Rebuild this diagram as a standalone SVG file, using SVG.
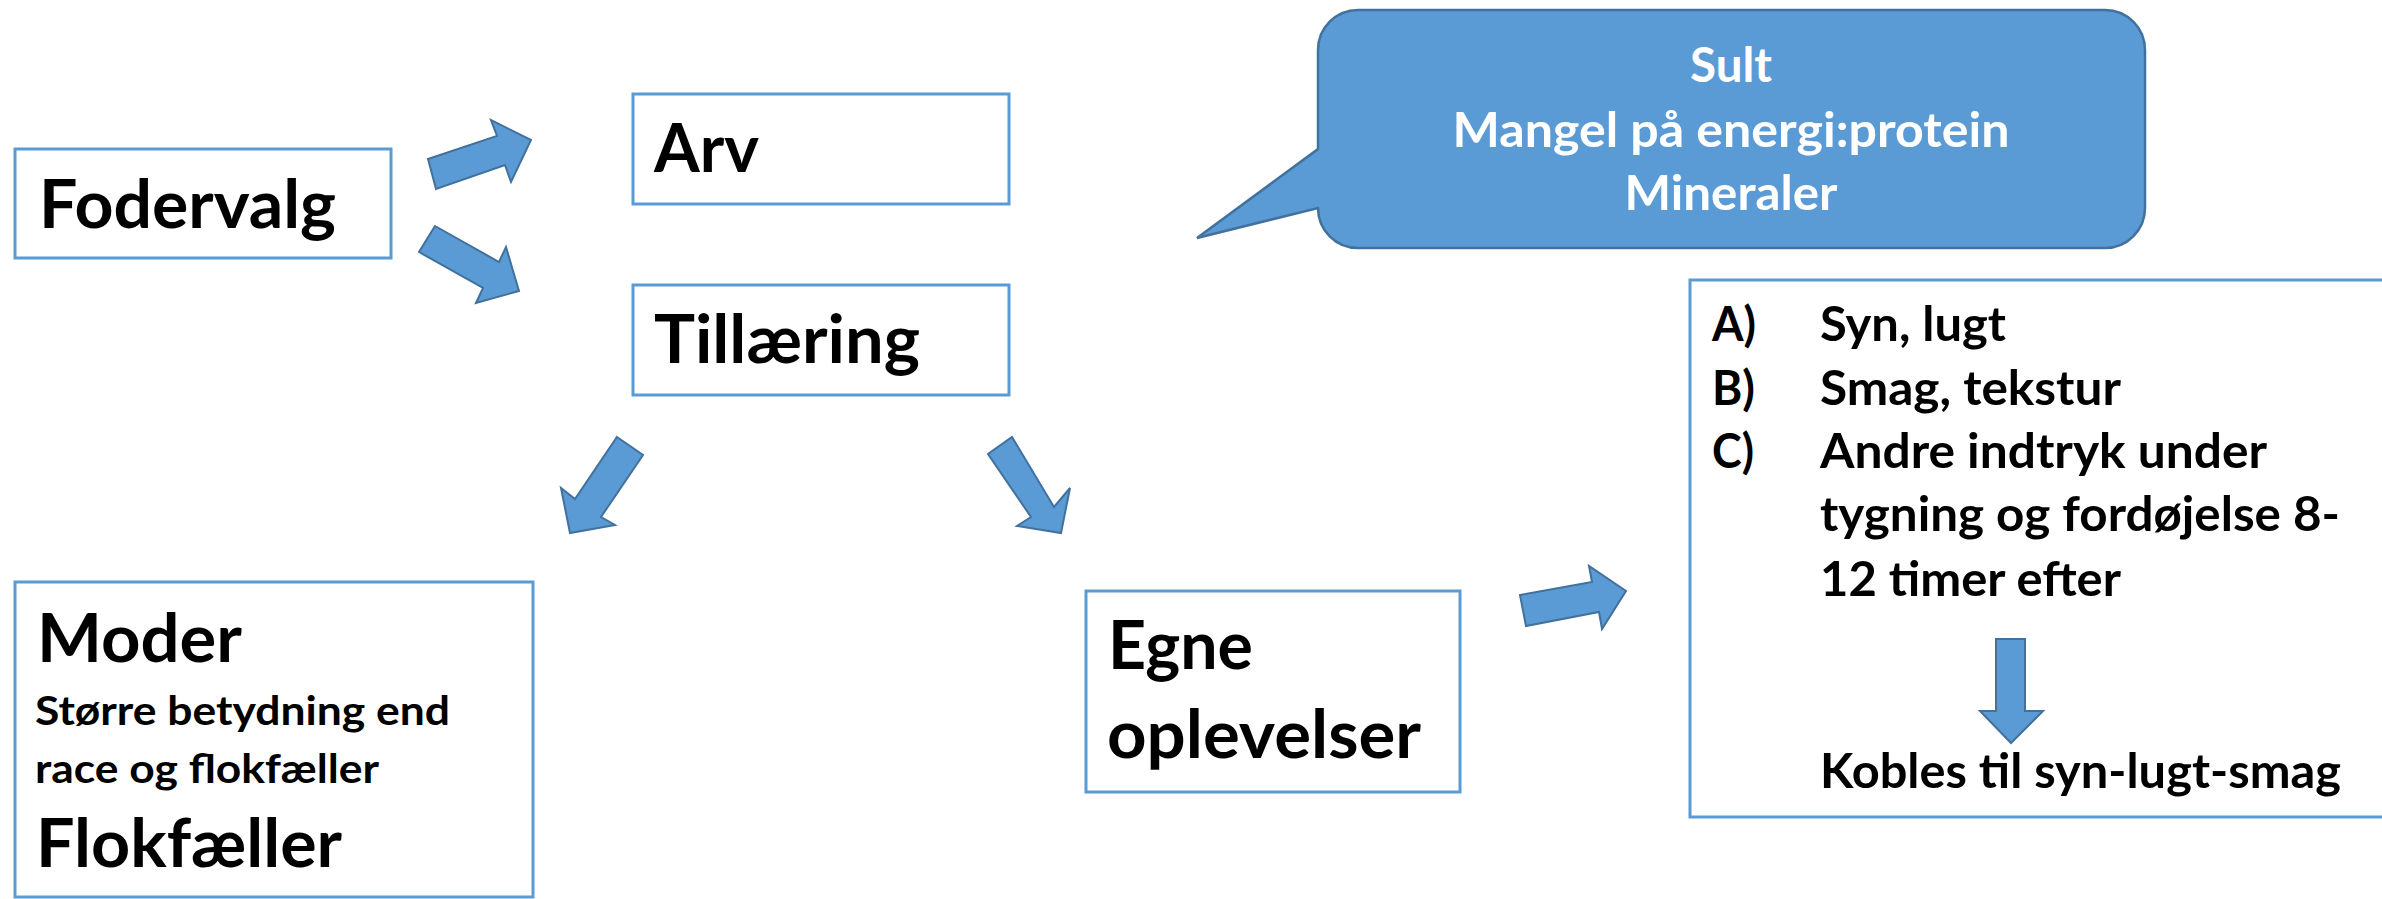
<svg xmlns="http://www.w3.org/2000/svg" width="2382" height="899" viewBox="0 0 2382 899">
<style>
.box{fill:#fff;stroke:#5B9BD5;stroke-width:3}
.arr{fill:#5B9BD5;stroke:#41719C;stroke-width:2;stroke-linejoin:miter}
.t{font-family:Lato,"Liberation Sans",sans-serif;font-weight:bold;fill:#000}
.big{font-size:67px}
.mid{font-size:48px}
.sm{font-size:40px}
.w{fill:#fff}
</style>
<rect width="2382" height="899" fill="#fff"/>
<g id="fodervalg">
<rect class="box" x="15" y="149" width="376" height="109"/>
<text class="t big" x="39" y="228" textLength="297" lengthAdjust="spacingAndGlyphs">Fodervalg</text>
</g>
<g id="arv">
<rect class="box" x="633" y="94" width="376" height="110"/>
<text class="t big" x="654" y="172" textLength="105" lengthAdjust="spacingAndGlyphs">Arv</text>
</g>
<g id="tillaering">
<rect class="box" x="633" y="285" width="376" height="110"/>
<text class="t big" x="654" y="363" textLength="266" lengthAdjust="spacingAndGlyphs">Tillæring</text>
</g>
<g id="moder">
<rect class="box" x="15" y="582" width="518" height="315"/>
<text class="t big" x="37" y="662" textLength="205" lengthAdjust="spacingAndGlyphs">Moder</text>
<text class="t sm" x="35" y="725" textLength="415" lengthAdjust="spacingAndGlyphs">Større betydning end</text>
<text class="t sm" x="35" y="783" textLength="344" lengthAdjust="spacingAndGlyphs">race og flokfæller</text>
<text class="t big" x="36" y="867" textLength="306" lengthAdjust="spacingAndGlyphs">Flokfæller</text>
</g>
<g id="egne">
<rect class="box" x="1086" y="591" width="374" height="201"/>
<text class="t big" x="1108" y="669" textLength="145" lengthAdjust="spacingAndGlyphs">Egne</text>
<text class="t big" x="1107" y="758" textLength="314" lengthAdjust="spacingAndGlyphs">oplevelser</text>
</g>
<g id="sansning">
<rect class="box" x="1690" y="280" width="720" height="537"/>
<text class="t mid" x="1712" y="341" textLength="44" lengthAdjust="spacingAndGlyphs">A)</text>
<text class="t mid" x="1820" y="341" textLength="186" lengthAdjust="spacingAndGlyphs">Syn, lugt</text>
<text class="t mid" x="1712" y="405" textLength="43" lengthAdjust="spacingAndGlyphs">B)</text>
<text class="t mid" x="1820" y="405" textLength="301" lengthAdjust="spacingAndGlyphs">Smag, tekstur</text>
<text class="t mid" x="1712" y="468" textLength="42" lengthAdjust="spacingAndGlyphs">C)</text>
<text class="t mid" x="1820" y="468" textLength="447" lengthAdjust="spacingAndGlyphs">Andre indtryk under</text>
<text class="t mid" x="1820" y="531" textLength="520" lengthAdjust="spacingAndGlyphs">tygning og fordøjelse 8-</text>
<text class="t mid" x="1820" y="596" textLength="301" lengthAdjust="spacingAndGlyphs">12 timer efter</text>
<polygon class="arr" points="1996,639 2025,639 2025,711 2043,711 2011,743 1980,711 1996,711"/>
<text class="t mid" x="1820" y="788" textLength="521" lengthAdjust="spacingAndGlyphs">Kobles til syn-lugt-smag</text>
</g>
<g id="callout">
<path d="M1358,10 H2105 A40,40 0 0 1 2145,50 V208 A40,40 0 0 1 2105,248 H1358 A40,40 0 0 1 1318,208 L1197,238 L1318,149 V50 A40,40 0 0 1 1358,10 Z" fill="#5B9BD5" stroke="#41719C" stroke-width="2.5"/>
<text class="t mid w" x="1731" y="82" text-anchor="middle" textLength="82" lengthAdjust="spacingAndGlyphs">Sult</text>
<text class="t mid w" x="1731" y="147" text-anchor="middle" textLength="557" lengthAdjust="spacingAndGlyphs">Mangel på energi:protein</text>
<text class="t mid w" x="1731" y="210" text-anchor="middle" textLength="213" lengthAdjust="spacingAndGlyphs">Mineraler</text>
</g>
<g id="connectors">
<polygon class="arr" points="428,159 497,136 491,120 531,140 511,182 505,165 436,189"/>
<polygon class="arr" points="435,226 499,262 506,247 519,291 476,303 483,288 419,252"/>
<polygon class="arr" points="617,437 643,455 601,517 615,525 570,533 561,488 575,499"/>
<polygon class="arr" points="1012,437 1054,507 1070,488 1061,533 1017,526 1031,517 988,454"/>
<polygon class="arr" points="1520,595 1592,582 1589,566 1626,591 1602,629 1599,612 1526,626"/>
</g>
</svg>
